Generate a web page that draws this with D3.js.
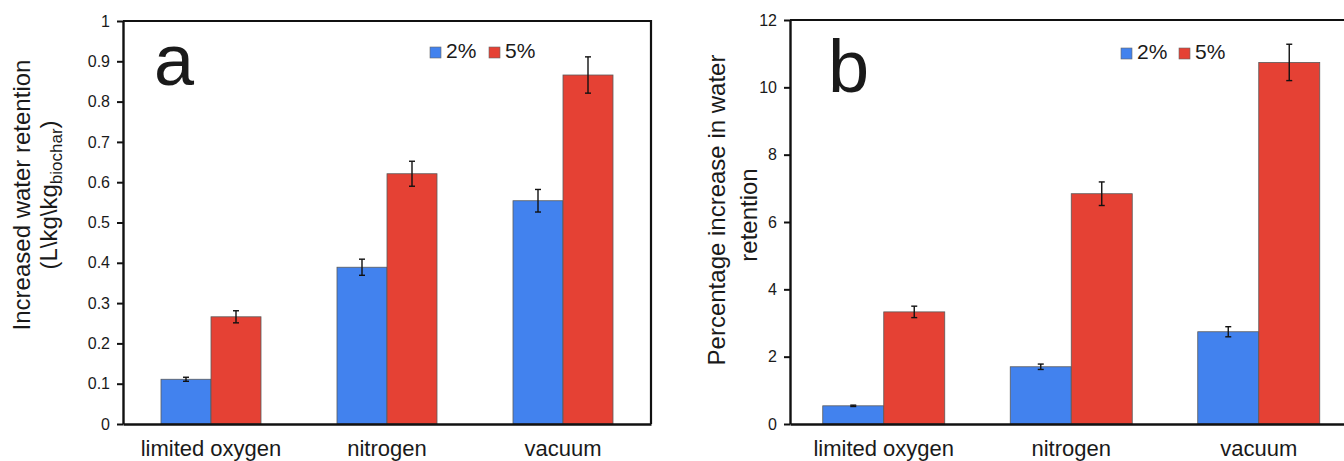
<!DOCTYPE html>
<html><head><meta charset="utf-8">
<script src="https://cdn.jsdelivr.net/npm/d3@7"></script>
<style>
html,body{margin:0;padding:0;background:#fff;}
svg text{font-family:"Liberation Sans",Arial,Helvetica,sans-serif;fill:#1a1a1a;}
</style></head>
<body>
<svg id="chart" width="1344" height="461"></svg>
<script>
const categories = ["limited oxygen", "nitrogen", "vacuum"];
const seriesNames = ["2%", "5%"];
const seriesColors = ["#4282ee", "#e54134"];

// Panel a: increased water retention (L\kg\kg biochar)
const retention2 = [0.111, 0.389, 0.554];
const retention5 = [0.266, 0.621, 0.866];
const retentionErr2 = [0.005, 0.020, 0.028];
const retentionErr5 = [0.015, 0.031, 0.045];
const retentionTicks = [0, 0.1, 0.2, 0.3, 0.4, 0.5, 0.6, 0.7, 0.8, 0.9, 1];

// Panel b: percentage increase in water retention
const percent2 = [0.54, 1.70, 2.74];
const percent5 = [3.33, 6.84, 10.74];
const percentErr2 = [0.02, 0.08, 0.15];
const percentErr5 = [0.17, 0.35, 0.54];
const percentTicks = [0, 2, 4, 6, 8, 10, 12];

const svg = d3.select("#chart");

function panel(cfg) {
  const g = svg.append("g");
  const x0 = d3.scaleBand().domain(categories).range([cfg.left, cfg.right]).padding(0);
  const x1 = d3.scaleBand().domain(seriesNames).range([0, x0.bandwidth()])
    .paddingInner(0).paddingOuter(cfg.outerPad);
  const y = d3.scaleLinear().domain(cfg.domain).range([cfg.bottom, cfg.top]);

  const rows = categories.map((c, i) => ({
    cat: c,
    vals: seriesNames.map((s, j) => ({ s, j, v: cfg.values[j][i], e: cfg.errors[j][i] }))
  }));

  // bars
  const grp = g.selectAll("g.cat").data(rows).join("g")
    .attr("transform", d => `translate(${x0(d.cat)},0)`);
  grp.selectAll("rect").data(d => d.vals).join("rect")
    .attr("x", d => x1(d.s))
    .attr("y", d => y(d.v))
    .attr("width", x1.bandwidth())
    .attr("height", d => y(0) - y(d.v))
    .attr("fill", d => seriesColors[d.j])
    .attr("stroke", "#5a5a5a")
    .attr("stroke-width", 0.8);

  // error bars
  const eb = grp.selectAll("g.err").data(d => d.vals).join("g")
    .attr("stroke", "#111").attr("stroke-width", 1.4);
  const cx = d => x1(d.s) + x1.bandwidth() / 2;
  eb.append("line").attr("x1", cx).attr("x2", cx)
    .attr("y1", d => y(d.v + d.e)).attr("y2", d => y(d.v - d.e));
  eb.append("line").attr("x1", d => cx(d) - 3).attr("x2", d => cx(d) + 3)
    .attr("y1", d => y(d.v + d.e)).attr("y2", d => y(d.v + d.e));
  eb.append("line").attr("x1", d => cx(d) - 3).attr("x2", d => cx(d) + 3)
    .attr("y1", d => y(d.v - d.e)).attr("y2", d => y(d.v - d.e));

  // frame (top and right)
  g.append("path")
    .attr("d", `M${cfg.left},${cfg.top}H${cfg.right}V${cfg.bottom}`)
    .attr("fill", "none").attr("stroke", "#111").attr("stroke-width", 2.2);

  // y axis
  const yAxis = d3.axisLeft(y).tickValues(cfg.ticks).tickFormat(cfg.fmt)
    .tickSizeInner(6).tickSizeOuter(0).tickPadding(7);
  const ya = g.append("g").attr("transform", `translate(${cfg.left},0)`).call(yAxis);
  ya.select(".domain").attr("stroke", "#111").attr("stroke-width", 2.4);
  ya.selectAll(".tick line").attr("stroke", "#111").attr("stroke-width", 2);
  ya.selectAll(".tick text").style("font-size", "16px").attr("fill", "#1a1a1a")
    .style("font-family", '"Liberation Sans",Arial,sans-serif');

  // x axis
  const xAxis = d3.axisBottom(x0).tickSize(0).tickPadding(20).tickSizeOuter(0);
  const xa = g.append("g").attr("transform", `translate(0,${cfg.bottom})`).call(xAxis);
  xa.select(".domain").attr("stroke", "#111").attr("stroke-width", 2.4);
  xa.selectAll(".tick text").style("font-size", "22px").attr("fill", "#1a1a1a")
    .style("font-family", '"Liberation Sans",Arial,sans-serif')
    .attr("dy", "0.71em").attr("y", 16);

  // panel letter
  g.append("text").attr("x", cfg.letterX).attr("y", cfg.letterY)
    .style("font-size", cfg.letterSize + "px").text(cfg.letter);

  // legend
  const lg = g.append("g");
  seriesNames.forEach((s, j) => {
    lg.append("rect").attr("x", cfg.legendX[j]).attr("y", cfg.legendY - 11)
      .attr("width", 11).attr("height", 11)
      .attr("fill", seriesColors[j]).attr("stroke", "#666").attr("stroke-width", 0.6);
    lg.append("text").attr("x", cfg.legendX[j] + 16).attr("y", cfg.legendY)
      .style("font-size", "21px").text(s);
  });

  // y title
  cfg.titleLines.forEach(t => {
    const tx = g.append("text")
      .attr("transform", `translate(${t.x},${t.y}) rotate(-90)`)
      .attr("text-anchor", "middle").style("font-size", "24px");
    t.parts.forEach(p => {
      const ts = tx.append("tspan").text(p.text);
      if (p.sub) ts.style("font-size", "17px").attr("dy", "5");
      if (p.after) ts.attr("dy", "-5");
    });
  });
}

panel({
  left: 123, right: 651, top: 21, bottom: 424,
  outerPad: 0.76, domain: [0, 1],
  values: [retention2, retention5], errors: [retentionErr2, retentionErr5],
  ticks: retentionTicks, fmt: d3.format("~g"),
  letter: "a", letterX: 154, letterY: 85, letterSize: 72,
  legendX: [430, 489], legendY: 58,
  titleLines: [
    { x: 30, y: 195, parts: [{ text: "Increased water retention" }] },
    { x: 57, y: 195, parts: [{ text: "(L\\kg\\kg" }, { text: "biochar", sub: true }, { text: ")", after: true }] }
  ]
});

panel({
  left: 790, right: 1352.5, top: 20, bottom: 424,
  outerPad: 0.537, domain: [0, 12],
  values: [percent2, percent5], errors: [percentErr2, percentErr5],
  ticks: percentTicks, fmt: d3.format("d"),
  letter: "b", letterX: 828, letterY: 92, letterSize: 74,
  legendX: [1121, 1179], legendY: 59,
  titleLines: [
    { x: 725, y: 210, parts: [{ text: "Percentage increase in water" }] },
    { x: 757, y: 215, parts: [{ text: "retention" }] }
  ]
});
</script>
</body></html>
